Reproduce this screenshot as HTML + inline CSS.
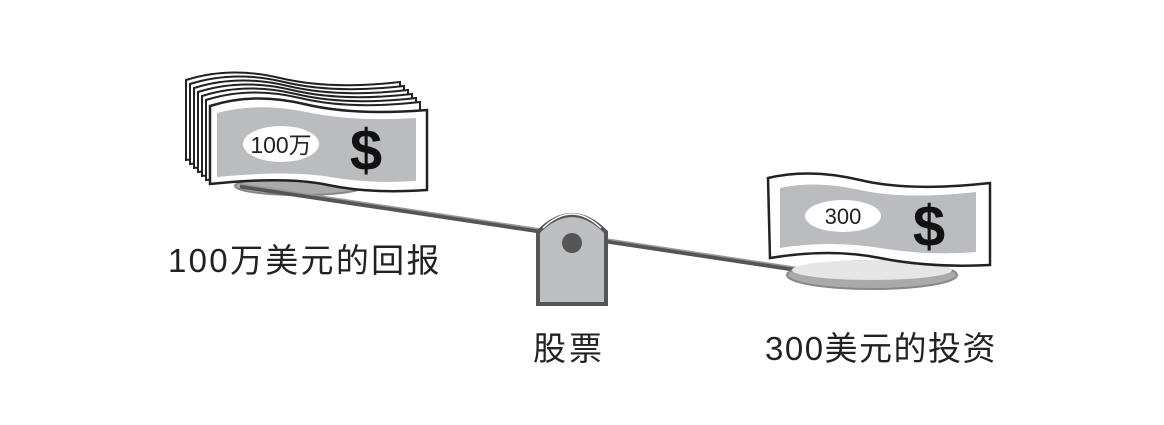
<!DOCTYPE html>
<html><head><meta charset="utf-8"><style>
html,body{margin:0;padding:0;background:#fff;width:1164px;height:425px;overflow:hidden}
svg{display:block}
text{font-family:"Liberation Sans","Noto Sans CJK SC",sans-serif}
</style></head><body>
<svg width="1164" height="425" viewBox="0 0 1164 425">
<!-- left plate -->
<ellipse cx="300" cy="186" rx="65" ry="9" fill="#aaa" stroke="#888" stroke-width="2"/>
<!-- beam -->
<line x1="240" y1="186" x2="800" y2="270" stroke="#555" stroke-width="5"/>
<line x1="240" y1="184" x2="800" y2="268" stroke="#999" stroke-width="1.5"/>
<!-- left stack back bills -->
<g fill="#fff" stroke="#222" stroke-width="2">
<path d="M186 80 Q230 66 280 78 T400 82 L400 160 Q340 165 300 158 T186 160 Z"/>
<path d="M190 84 Q234 70 284 82 T404 86 L404 164 Q344 169 304 162 T190 164 Z"/>
<path d="M194 88 Q238 74 288 86 T408 90 L408 168 Q348 173 308 166 T194 168 Z"/>
<path d="M198 92 Q242 78 292 90 T412 94 L412 172 Q352 177 312 170 T198 172 Z"/>
<path d="M202 96 Q246 82 296 94 T416 98 L416 176 Q356 181 316 174 T202 176 Z"/>
<path d="M206 100 Q250 86 300 98 T420 102 L420 180 Q360 185 320 178 T206 180 Z"/>
<path d="M210 106 Q254 92 304 104 T427 110 L427 190 Q370 194 328 185 T210 184 Z" stroke-width="2.5"/>
</g>
<path d="M217 113 Q258 102 306 112 T416 118 L416 181 Q370 184 330 177 T217 177 Z" fill="#bbbcbf"/>
<ellipse cx="281" cy="144" rx="38" ry="18" fill="#fff"/>
<text x="281" y="153" font-size="23" text-anchor="middle" fill="#222">100万</text>
<text x="366" y="170" font-size="58" font-weight="bold" text-anchor="middle" fill="#111">$</text>
<!-- right plate -->
<ellipse cx="872" cy="275" rx="85" ry="14" fill="#aaa" stroke="#888" stroke-width="2"/>
<ellipse cx="872" cy="270" rx="80" ry="10" fill="#e6e6e6"/>
<!-- right bill -->
<path d="M768 178 Q810 168 860 180 T990 183 L990 265 Q930 268 880 258 T770 258 Z" fill="#fff" stroke="#222" stroke-width="2.5"/>
<path d="M780 188 Q815 180 860 190 T976 192 L976 252 Q930 256 880 248 T780 248 Z" fill="#bbbcbf"/>
<ellipse cx="843" cy="216" rx="38" ry="16" fill="#fff"/>
<text x="843" y="224" font-size="22" text-anchor="middle" fill="#222">300</text>
<text x="929" y="246" font-size="58" font-weight="bold" text-anchor="middle" fill="#111">$</text>
<!-- fulcrum -->
<path d="M538 232 Q572 198 606 232 L606 304 L538 304 Z" fill="#bdbec1" stroke="#555" stroke-width="4"/>
<path d="M543 228 Q572 200 601 228" fill="none" stroke="#fff" stroke-width="1.5"/>
<circle cx="572" cy="243" r="10" fill="#555"/>
<!-- labels -->
<text x="168" y="272" font-size="33" letter-spacing="2.3" fill="#222">100万美元的回报</text>
<text x="533" y="360" font-size="33" letter-spacing="3" fill="#222">股票</text>
<text x="765" y="360" font-size="33" letter-spacing="1.5" fill="#222">300美元的投资</text>
</svg>
</body></html>
